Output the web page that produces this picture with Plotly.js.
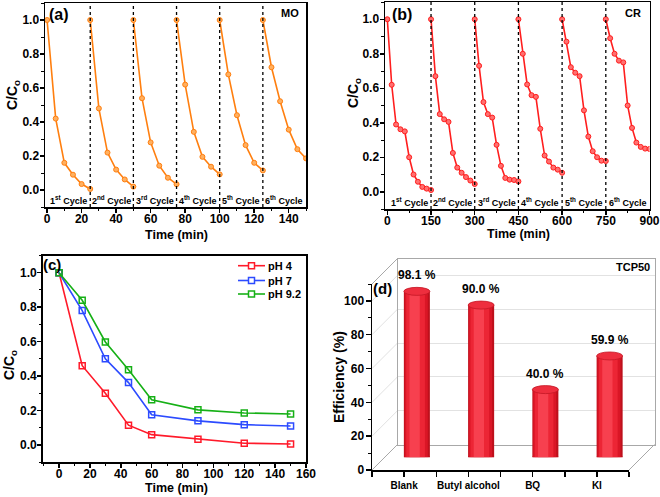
<!DOCTYPE html>
<html><head><meta charset="utf-8">
<script src="https://cdn.plot.ly/plotly-3.0.1.min.js"></script>
<style>html,body{margin:0;padding:0;background:#fff}#chart{width:660px;height:497px}</style>
</head><body><div id="chart"></div>
<script>
// ---------- data ----------
// (a) MO cycles
const moCycleStart = [0, 25, 50, 75, 100, 125];
const moCycleTime = [0, 5, 10, 15, 20, 25];
const moCycle1 = [1.0, 0.42, 0.16, 0.09, 0.035, 0.006];
const moCycle2 = [1.0, 0.48, 0.22, 0.12, 0.062, 0.02];
const moCycle3 = [1.0, 0.54, 0.28, 0.143, 0.072, 0.034];
const moCycle4 = [1.0, 0.62, 0.342, 0.195, 0.137, 0.092];
const moCycle5 = [1.0, 0.68, 0.44, 0.264, 0.16, 0.115];
const moCycle6 = [1.0, 0.722, 0.522, 0.355, 0.24, 0.186];
const moCycles = [moCycle1, moCycle2, moCycle3, moCycle4, moCycle5, moCycle6];
const cycleLabels = ['1<sup>st</sup> Cycle', '2<sup>nd</sup> Cycle', '3<sup>rd</sup> Cycle',
                     '4<sup>th</sup> Cycle', '5<sup>th</sup> Cycle', '6<sup>th</sup> Cycle'];
// (b) CR cycles
const crCycleStart = [0, 150, 300, 450, 600, 750];
const crCycleTime = [0, 15, 30, 45, 60, 75, 90, 105, 120, 135, 150];
const crCycle1 = [1.0, 0.62, 0.39, 0.362, 0.35, 0.2, 0.1, 0.058, 0.028, 0.018, 0.01];
const crCycle2 = [1.0, 0.67, 0.45, 0.42, 0.405, 0.225, 0.14, 0.11, 0.085, 0.065, 0.045];
const crCycle3 = [1.0, 0.73, 0.52, 0.45, 0.43, 0.272, 0.15, 0.08, 0.07, 0.068, 0.06];
const crCycle4 = [1.0, 0.80, 0.622, 0.56, 0.55, 0.365, 0.21, 0.175, 0.14, 0.128, 0.11];
const crCycle5 = [1.0, 0.87, 0.722, 0.69, 0.67, 0.472, 0.32, 0.235, 0.2, 0.18, 0.178];
const crCycle6 = [1.0, 0.89, 0.80, 0.76, 0.75, 0.50, 0.37, 0.285, 0.26, 0.25, 0.248];
const crCycles = [crCycle1, crCycle2, crCycle3, crCycle4, crCycle5, crCycle6];
// (c) pH effect
const phTime = [0, 15, 30, 45, 60, 90, 120, 150];
const ph4 = [1.0, 0.46, 0.30, 0.115, 0.06, 0.033, 0.01, 0.006];
const ph7 = [1.0, 0.78, 0.50, 0.362, 0.175, 0.14, 0.118, 0.11];
const ph92 = [1.0, 0.84, 0.598, 0.437, 0.262, 0.204, 0.186, 0.18];
const phNames = ['pH 4', 'pH 7', 'pH 9.2'];
// (d) scavengers
const scavengers = ['Blank', 'Butyl alcohol', 'BQ', 'KI'];
const efficiency = [98.1, 90.0, 40.0, 59.9];

// ---------- helpers ----------
const W = 660, H = 497;
const px = v => v / W, py = v => 1 - v / H;
const FONT = 'Arial, "Liberation Sans", sans-serif';
const bold = (s, c) => ({family: FONT, size: s, color: c || '#000', weight: 'bold'});
function ax(extra) {
  return Object.assign({
    showline: true, linecolor: '#000', linewidth: 1.5, mirror: true,
    ticks: 'outside', ticklen: 4, tickwidth: 1.5, tickcolor: '#000',
    showgrid: false, zeroline: false, tickfont: bold(12),
  }, extra);
}
const minorTicks = d => ({dtick: d, ticks: 'outside', ticklen: 2.5, tickwidth: 1, tickcolor: '#000'});

const data = [];
const shapes = [];
const annotations = [];
const txt = (x, y, t, s, xa, ang) => annotations.push({xref: 'paper', yref: 'paper', x: px(x), y: py(y), text: t,
  showarrow: false, xanchor: xa || 'left', yanchor: 'middle', font: bold(s), textangle: ang || 0, borderpad: 0});

// (a)
const ORANGE = '#FF7F0F';
moCycles.forEach((c, k) => {
  data.push({type: 'scatter', mode: 'lines+markers', xaxis: 'x', yaxis: 'y',
    x: moCycleTime.map(t => t + moCycleStart[k]), y: c, showlegend: false, hoverinfo: 'skip',
    line: {color: ORANGE, width: 1.6},
    marker: {symbol: 'circle', size: 5, color: '#FFB060', line: {color: ORANGE, width: 1}}});
  if (k > 0) shapes.push({type: 'line', xref: 'x', yref: 'y domain', x0: moCycleStart[k], x1: moCycleStart[k],
    y0: 0, y1: 1, line: {color: '#000', width: 1.3, dash: 'dot'}});
  annotations.push({xref: 'x', yref: 'y', x: moCycleStart[k] + moCycleTime[moCycleTime.length - 1] / 2,
    y: -0.058, text: cycleLabels[k], showarrow: false, font: bold(9)});
});
// (b)
const RED = '#FF1E1E';
crCycles.forEach((c, k) => {
  data.push({type: 'scatter', mode: 'lines+markers', xaxis: 'x2', yaxis: 'y2',
    x: crCycleTime.map(t => t + crCycleStart[k]), y: c, showlegend: false, hoverinfo: 'skip',
    line: {color: RED, width: 1.6},
    marker: {symbol: 'circle', size: 5, color: '#FF7070', line: {color: RED, width: 1}}});
  if (k > 0) shapes.push({type: 'line', xref: 'x2', yref: 'y2 domain', x0: crCycleStart[k], x1: crCycleStart[k],
    y0: 0, y1: 1, line: {color: '#000', width: 1.3, dash: 'dot'}});
  annotations.push({xref: 'x2', yref: 'y2', x: crCycleStart[k] + crCycleTime[crCycleTime.length - 1] / 2,
    y: -0.058, text: cycleLabels[k], showarrow: false, font: bold(9)});
});
// (c)
const phColors = ['#FF1A2A', '#2C4BFF', '#16B016'];
const legRows = [265.7, 280.5, 294];
[ph4, ph7, ph92].forEach((s, i) => {
  data.push({type: 'scatter', mode: 'lines+markers', xaxis: 'x3', yaxis: 'y3', name: phNames[i],
    x: phTime, y: s, hoverinfo: 'skip', showlegend: false, line: {color: phColors[i], width: 1.6},
    marker: {symbol: 'square-open', size: 6, color: phColors[i], line: {width: 1.5}}});
  // legend entry (line + square + label)
  shapes.push({type: 'line', xref: 'paper', yref: 'paper', x0: px(238), x1: px(265),
    y0: py(legRows[i]), y1: py(legRows[i]), line: {color: phColors[i], width: 1.6}});
  shapes.push({type: 'rect', xref: 'paper', yref: 'paper', xsizemode: 'pixel', ysizemode: 'pixel',
    xanchor: px(251.5), yanchor: py(legRows[i]), x0: -3, x1: 3, y0: -3, y1: 3,
    fillcolor: '#fff', line: {color: phColors[i], width: 1.5}});
  txt(267, legRows[i], phNames[i], 11);
});

// (d) pseudo-3D bar chart
const D = 25.5;                       // depth offset in px
const F = {l: 372, r: 629, t: 284, b: 470};   // front axes box (px)
const frontDom = {x: [px(F.l), px(F.r)], y: [py(F.b), py(F.t)]};
const backDom = {x: [px(F.l + D), px(F.r + D)], y: [py(F.b - D), py(F.t - D)]};
const barDom = {x: [px(F.l + D / 2), px(F.r + D / 2)], y: [py(F.b - D / 2), py(F.t - D / 2)]};
const yMaxD = 110;
const yTicksD = [0, 20, 40, 60, 80, 100];
data.push({type: 'scatter', xaxis: 'x4', yaxis: 'y4', x: scavengers.map((_, i) => i), y: efficiency,
  mode: 'markers', marker: {opacity: 0}, showlegend: false, hoverinfo: 'skip'});
const barLayers = [
  {w: 0.405, c: '#BE101C', off: 0},
  {w: 0.36, c: '#DA1626', off: -0.01},
  {w: 0.29, c: '#EC2535', off: -0.02},
  {w: 0.16, c: '#F7404F', off: -0.035},
];
barLayers.forEach(L => {
  data.push({type: 'bar', xaxis: 'x5', yaxis: 'y5', x: scavengers.map((_, i) => i), y: efficiency,
    width: L.w, offset: L.off - L.w / 2, marker: {color: L.c, line: {width: 0}},
    showlegend: false, hoverinfo: 'skip'});
});
data.push({type: 'scatter', xaxis: 'x6', yaxis: 'y6', x: scavengers.map((_, i) => i), y: efficiency,
  mode: 'markers', marker: {opacity: 0}, showlegend: false, hoverinfo: 'skip'});

const ellH = 4 / ((F.b - F.t) / yMaxD);  // ellipse half height in data units
efficiency.forEach((v, i) => {
  const hw = barLayers[0].w / 2;
  shapes.push({type: 'circle', xref: 'x5', yref: 'y5', x0: i - hw, x1: i + hw, y0: -ellH, y1: ellH,
    fillcolor: '#BE101C', line: {width: 0}, layer: 'below'});
  shapes.push({type: 'circle', xref: 'x5', yref: 'y5', x0: i - hw, x1: i + hw, y0: v - ellH, y1: v + ellH,
    fillcolor: '#EE2E3E', line: {color: '#C41624', width: 0.8}, layer: 'above'});
  annotations.push({xref: 'x5', yref: 'y5', x: i, y: v, yshift: 16, text: v.toFixed(1) + ' %',
    showarrow: false, font: bold(12)});
});
const yPx = v => F.b - v / yMaxD * (F.b - F.t);
yTicksD.concat([yMaxD]).forEach(v => {
  const isEdge = (v === 0 || v === yMaxD);
  shapes.push({type: 'line', xref: 'paper', yref: 'paper', x0: px(F.l), y0: py(yPx(v)),
    x1: px(F.l + D), y1: py(yPx(v) - D), layer: 'below',
    line: {color: isEdge ? '#A8A8A8' : '#E2E2E2', width: 1}});
});
shapes.push({type: 'line', xref: 'paper', yref: 'paper', x0: px(F.r), y0: py(F.b),
  x1: px(F.r + D), y1: py(F.b - D), layer: 'below', line: {color: '#A8A8A8', width: 1}});

// panel texts
txt(48, 15, '(a)', 16); txt(300, 13, 'MO', 11, 'right');
txt(391, 15, '(b)', 16); txt(642, 13, 'CR', 11, 'right');
txt(42, 264, '(c)', 15);
txt(372, 288, '(d)', 15); txt(651, 267, 'TCP50', 11, 'right');
// axis titles
txt(176.5, 235, 'Time (min)', 12.5, 'center');
txt(518, 233.5, 'Time (min)', 12.5, 'center');
txt(176, 488, 'Time (min)', 12.5, 'center');
txt(13, 95, 'C/C<sub>o</sub>', 14, 'center', -90);
txt(354, 93, 'C/C<sub>o</sub>', 14, 'center', -90);
txt(10, 365, 'C/C<sub>o</sub>', 14, 'center', -90);
txt(339, 377, 'Efficiency (%)', 14, 'center', -90);

const yCC = {range: [-0.1, 1.1], tickvals: [0, 0.2, 0.4, 0.6, 0.8, 1.0], tickformat: '.1f',
  minor: minorTicks(0.1), ticklabelstandoff: -2};

const layout = {
  width: W, height: H, margin: {l: 0, r: 0, t: 0, b: 0},
  paper_bgcolor: '#fff', plot_bgcolor: 'rgba(0,0,0,0)',
  showlegend: false,
  xaxis: ax({domain: [px(45), px(306)], range: [-1.2, 150], tickvals: [0, 20, 40, 60, 80, 100, 120, 140],
    minor: minorTicks(10), anchor: 'y', ticklabelstandoff: -4}),
  yaxis: ax(Object.assign({domain: [py(207), py(3)], anchor: 'x'}, yCC)),
  xaxis2: ax({domain: [px(385), px(649.5)], range: [-8, 900], tickvals: [0, 150, 300, 450, 600, 750, 900],
    minor: minorTicks(75), anchor: 'y2', ticklabelstandoff: -4}),
  yaxis2: ax(Object.assign({domain: [py(209), py(2)], anchor: 'x2'}, yCC)),
  xaxis3: ax({domain: [px(42.7), px(306)], range: [-10.6, 160], tickvals: [0, 20, 40, 60, 80, 100, 120, 140, 160],
    minor: minorTicks(10), anchor: 'y3', ticklabelstandoff: -4}),
  yaxis3: ax(Object.assign({domain: [py(462.2), py(255.5)], anchor: 'x3'}, yCC)),
  // back wall
  xaxis4: {domain: backDom.x, range: [-0.5, 3.5], anchor: 'y4', showline: true, mirror: true, linecolor: '#A8A8A8',
    linewidth: 1, showticklabels: false, ticks: '', showgrid: false, zeroline: false},
  yaxis4: {domain: backDom.y, range: [0, yMaxD], anchor: 'x4', showline: true, mirror: true, linecolor: '#A8A8A8',
    linewidth: 1, showticklabels: false, ticks: '', showgrid: true, gridcolor: '#E2E2E2', gridwidth: 1,
    tickvals: yTicksD.slice(1), zeroline: false},
  // bars
  xaxis5: {domain: barDom.x, range: [-0.5, 3.5], anchor: 'y5', visible: false},
  yaxis5: {domain: barDom.y, range: [0, yMaxD], anchor: 'x5', visible: false},
  // front axes
  xaxis6: {domain: frontDom.x, range: [-0.5, 3.5], anchor: 'y6', showline: true, linecolor: '#000', linewidth: 1.5,
    ticks: 'outside', ticklen: 5, tickwidth: 1.5, tickcolor: '#000', showgrid: false, zeroline: false,
    tickvals: [-0.5].concat(...scavengers.map((_, i) => [i, i + 0.5])),
    ticktext: [''].concat(...scavengers.map(s => [s, ''])), tickfont: bold(10)},
  yaxis6: {domain: frontDom.y, range: [0, yMaxD], anchor: 'x6', showline: true, linecolor: '#000', linewidth: 1.5,
    ticks: 'outside', ticklen: 5, tickwidth: 1.5, tickcolor: '#000', showgrid: false, zeroline: false,
    tickvals: yTicksD, tickfont: bold(12), minor: minorTicks(10), ticklabelstandoff: -1},
  barmode: 'overlay',
  shapes: shapes, annotations: annotations,
};
Plotly.newPlot('chart', data, layout, {staticPlot: true, displayModeBar: false});
</script></body></html>
